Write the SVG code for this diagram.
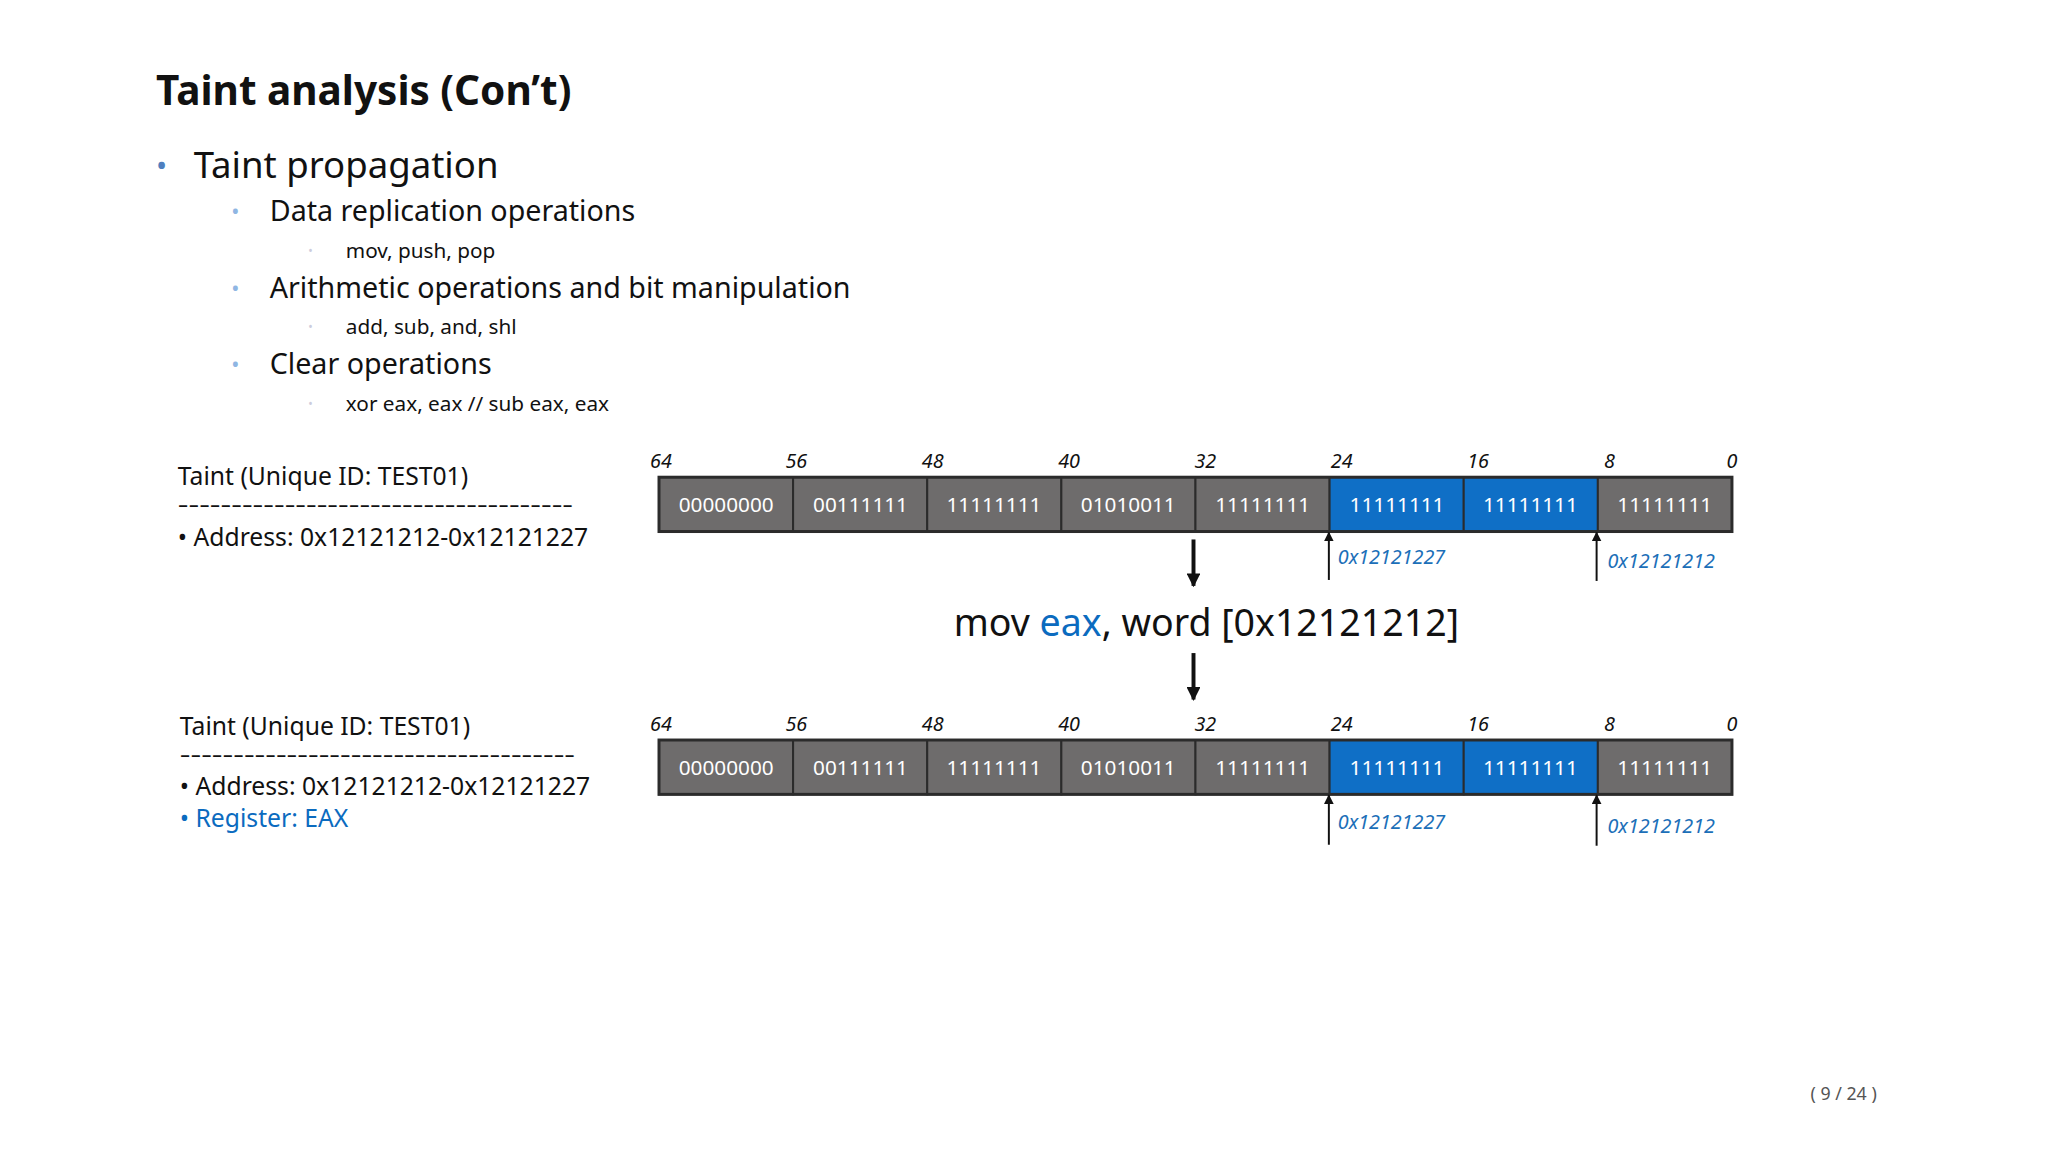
<svg xmlns="http://www.w3.org/2000/svg" width="2048" height="1152" viewBox="0 0 2048 1152">
<defs>
<style>
text{font-family:"Noto Sans","Open Sans","Liberation Sans",sans-serif;fill:#111}
.c{fill:#6e6c6c;stroke:#2b2b2b;stroke-width:2}
.b{fill:#0f6fc6;stroke:#2b2b2b;stroke-width:2}
.ct{fill:#fff;font-size:21px;text-anchor:middle}
.bit{font-size:20px;font-style:italic;text-anchor:middle}
.addr{fill:#1c6fb8;font-size:20px;font-style:italic}
.ln{stroke:#111;fill:none}
.lbl{font-size:25px}
</style>
<marker id="ah" viewBox="0 0 10 10" refX="9" refY="5" markerWidth="10" markerHeight="10" markerUnits="userSpaceOnUse" orient="auto"><path d="M0,0 L10,5 L0,10 z" fill="#111"/></marker>
<marker id="ah2" viewBox="0 0 10 10" refX="9" refY="5" markerWidth="14" markerHeight="14" markerUnits="userSpaceOnUse" orient="auto"><path d="M0,0 L10,5 L0,10 z" fill="#111"/></marker>
</defs>
<rect width="2048" height="1152" fill="#fff"/>
<g transform="scale(0.988)">
<g id="title"><text x="158" y="106" font-size="41" font-weight="bold">Taint analysis (Con’t)</text></g>
<g id="bullets">
<text x="158" y="178" font-size="30" style="fill:#4f7fbf">•</text>
<text x="196" y="180" font-size="37">Taint propagation</text>
<text x="234" y="222" font-size="22" style="fill:#8fb6e3">•</text>
<text x="273" y="224" font-size="29">Data replication operations</text>
<text x="312" y="258" font-size="12" style="fill:#ccd">•</text>
<text x="350" y="261" font-size="21">mov, push, pop</text>
<text x="234" y="300" font-size="22" style="fill:#8fb6e3">•</text>
<text x="273" y="302" font-size="29">Arithmetic operations and bit manipulation</text>
<text x="312" y="335" font-size="12" style="fill:#ccd">•</text>
<text x="350" y="338" font-size="21">add, sub, and, shl</text>
<text x="234" y="377" font-size="22" style="fill:#8fb6e3">•</text>
<text x="273" y="379" font-size="29">Clear operations</text>
<text x="312" y="413" font-size="12" style="fill:#ccd">•</text>
<text x="350" y="416" font-size="21">xor eax, eax // sub eax, eax</text>
</g>
<g id="taint1">
<text class="lbl" x="180" y="491">Taint (Unique ID: TEST01)</text>
<text font-size="22" x="180" y="518" textLength="400" lengthAdjust="spacingAndGlyphs">-------------------------------------</text>
<text class="lbl" x="180" y="553">•  Address: 0x12121212-0x12121227</text>
</g>
<g id="taint2">
<text class="lbl" x="182" y="744">Taint (Unique ID: TEST01)</text>
<text font-size="22" x="182" y="771" textLength="400" lengthAdjust="spacingAndGlyphs">-------------------------------------</text>
<text class="lbl" x="182" y="805">•  Address: 0x12121212-0x12121227</text>
<text class="lbl" x="182" y="837" style="fill:#0b6bbf">•  Register: EAX</text>
</g>
<g id="reg1">
<rect class="c" x="667" y="483" width="135.75" height="55"/>
<rect class="c" x="802.75" y="483" width="135.75" height="55"/>
<rect class="c" x="938.5" y="483" width="135.75" height="55"/>
<rect class="c" x="1074.25" y="483" width="135.75" height="55"/>
<rect class="c" x="1210" y="483" width="135.75" height="55"/>
<rect class="b" x="1345.75" y="483" width="135.75" height="55"/>
<rect class="b" x="1481.5" y="483" width="135.75" height="55"/>
<rect class="c" x="1617.25" y="483" width="135.75" height="55"/>
<rect x="667" y="483" width="1086" height="55" fill="none" stroke="#2b2b2b" stroke-width="3"/>
<text class="ct" x="735" y="518">00000000</text><text class="ct" x="871" y="518">00111111</text><text class="ct" x="1006" y="518">11111111</text><text class="ct" x="1142" y="518">01010011</text><text class="ct" x="1278" y="518">11111111</text><text class="ct" x="1414" y="518">11111111</text><text class="ct" x="1549" y="518">11111111</text><text class="ct" x="1685" y="518">11111111</text>
<text class="bit" x="669" y="474">64</text><text class="bit" x="806" y="474">56</text><text class="bit" x="944" y="474">48</text><text class="bit" x="1082" y="474">40</text><text class="bit" x="1220" y="474">32</text><text class="bit" x="1358" y="474">24</text><text class="bit" x="1496" y="474">16</text><text class="bit" x="1629" y="474">8</text><text class="bit" x="1753" y="474">0</text>
</g>
<g id="reg2">
<rect class="c" x="667" y="749" width="135.75" height="55"/>
<rect class="c" x="802.75" y="749" width="135.75" height="55"/>
<rect class="c" x="938.5" y="749" width="135.75" height="55"/>
<rect class="c" x="1074.25" y="749" width="135.75" height="55"/>
<rect class="c" x="1210" y="749" width="135.75" height="55"/>
<rect class="b" x="1345.75" y="749" width="135.75" height="55"/>
<rect class="b" x="1481.5" y="749" width="135.75" height="55"/>
<rect class="c" x="1617.25" y="749" width="135.75" height="55"/>
<rect x="667" y="749" width="1086" height="55" fill="none" stroke="#2b2b2b" stroke-width="3"/>
<text class="ct" x="735" y="784">00000000</text><text class="ct" x="871" y="784">00111111</text><text class="ct" x="1006" y="784">11111111</text><text class="ct" x="1142" y="784">01010011</text><text class="ct" x="1278" y="784">11111111</text><text class="ct" x="1414" y="784">11111111</text><text class="ct" x="1549" y="784">11111111</text><text class="ct" x="1685" y="784">11111111</text>
<text class="bit" x="669" y="740">64</text><text class="bit" x="806" y="740">56</text><text class="bit" x="944" y="740">48</text><text class="bit" x="1082" y="740">40</text><text class="bit" x="1220" y="740">32</text><text class="bit" x="1358" y="740">24</text><text class="bit" x="1496" y="740">16</text><text class="bit" x="1629" y="740">8</text><text class="bit" x="1753" y="740">0</text>
</g>
<g id="instr"><text x="1221" y="644" font-size="38" text-anchor="middle">mov <tspan style="fill:#0b6bbf">eax</tspan>, word [0x12121212]</text></g>
<g id="labels">
<text class="addr" x="1354" y="571">0x12121227</text><text class="addr" x="1627" y="575">0x12121212</text>
<text class="addr" x="1354" y="839">0x12121227</text><text class="addr" x="1627" y="843">0x12121212</text>
</g>
<g id="connectors">
<line class="ln" stroke-width="4" x1="1208" y1="546" x2="1208" y2="593" marker-end="url(#ah2)"/>
<line class="ln" stroke-width="4" x1="1208" y1="661" x2="1208" y2="708" marker-end="url(#ah2)"/>
<line class="ln" stroke-width="2" x1="1345" y1="587" x2="1345" y2="539" marker-end="url(#ah)"/>
<line class="ln" stroke-width="2" x1="1616" y1="588" x2="1616" y2="539" marker-end="url(#ah)"/>
<line class="ln" stroke-width="2" x1="1345" y1="855" x2="1345" y2="805" marker-end="url(#ah)"/>
<line class="ln" stroke-width="2" x1="1616" y1="856" x2="1616" y2="805" marker-end="url(#ah)"/>
</g>
<g id="page"><text x="1866" y="1113" font-size="18" text-anchor="middle" style="fill:#555">( 9 / 24 )</text></g>
</g>
</svg>
